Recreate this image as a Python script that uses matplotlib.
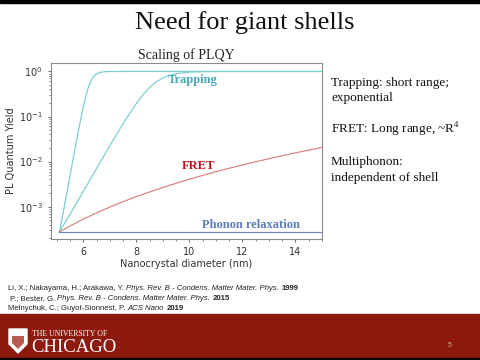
import matplotlib
matplotlib.use('Agg')
import matplotlib.pyplot as plt
from matplotlib.patches import Rectangle, Polygon

plt.rcParams['mathtext.fontset'] = 'stix'

# ---- data ----
diam_fast = [5.1, 5.3, 5.5, 5.7, 5.8, 5.9, 6.0, 6.1, 6.2, 6.3, 6.4, 6.5, 6.6, 6.7, 6.8, 7.0, 7.5, 15.0]
qy_fast = [2.75e-4, 1.15e-3, 5.0e-3, 0.0214, 0.0437, 0.087, 0.166, 0.294, 0.463, 0.643,
           0.790, 0.887, 0.943, 0.972, 0.986, 0.997, 1.0, 1.0]

diam_slow = [5.1, 5.5, 6.0, 6.5, 7.0, 7.5, 8.0, 8.25, 8.5, 8.75, 9.0, 9.25, 9.5, 10.0, 10.5, 11.0, 11.5, 12.0, 15.0]
qy_slow = [2.75e-4, 6.74e-4, 2.19e-3, 7.06e-3, 0.02255, 0.0698, 0.1956, 0.3048, 0.4414, 0.587,
           0.7195, 0.822, 0.893, 0.9643, 0.9889, 0.9965, 0.9989, 0.9997, 1.0]

diam_fret = [5.1, 5.5, 6.0, 6.5, 7.0, 7.5, 8.0, 9.0, 10.0, 11.0, 12.0, 13.0, 14.0, 15.0]
qy_fret = [2.75e-4, 3.72e-4, 5.27e-4, 7.27e-4, 9.77e-4, 1.29e-3, 1.67e-3, 2.67e-3, 4.07e-3,
           5.96e-3, 8.43e-3, 1.16e-2, 1.56e-2, 2.06e-2]

diam_phonon = [5.1, 15.0]
qy_phonon = [2.75e-4, 2.75e-4]

x_ticks = [6, 8, 10, 12, 14]

slide_title = "Need for giant shells"
plot_title = "Scaling of PLQY"
side_notes = [("Trapping: short range;", 86), ("exponential", 101.5),
              ("FRET: Long range, ~R$^{4}$", 133.5),
              ("Multiphonon:", 165.5), ("independent of shell", 181)]
references = [
    [("Li, X.; Nakayama, H.; Arakawa, Y.", "normal", "normal"),
     ("Phys. Rev. B - Condens. Matter Mater. Phys.", "italic", "normal"),
     ("1999", "normal", "bold")],
    [("P.; Bester, G.", "normal", "normal"),
     ("Phys. Rev. B - Condens. Matter Mater. Phys.", "italic", "normal"),
     ("2015", "normal", "bold")],
    [("Melnychuk, C.; Guyot-Sionnest, P.", "normal", "normal"),
     ("ACS Nano", "italic", "normal"),
     ("2019", "normal", "bold")],
]

W, H = 480, 360
fig = plt.figure(figsize=(4.8, 3.6), dpi=100)
fig.patch.set_facecolor('white')

def px(x, y):
    return x / W, 1 - y / H

# top thin black bar
fig.add_artist(Rectangle((0, 1 - 3 / H), 1, 3 / H, transform=fig.transFigure, color='black', zorder=0))

# slide title
fig.text(*px(245, 23), slide_title, ha='center', va='center', fontsize=19,
         family='Liberation Serif', color='#111111')

# ---- plot ----
ax = fig.add_axes([51 / W, 1 - 239 / H, 271 / W, 176 / H])
trap_line = '#7dd0d0'
ax.plot(diam_fast, qy_fast, color=trap_line, lw=0.9)
ax.plot(diam_slow, qy_slow, color=trap_line, lw=0.9)
ax.plot(diam_fret, qy_fret, color='#d98585', lw=0.9)
ax.plot(diam_phonon, qy_phonon, color='#7088b8', lw=0.9)
ax.set_yscale('log')
ax.set_xlim(4.78, 15.0)
ax.set_ylim(1.91e-4, 1.54)
ax.set_xticks(x_ticks)
ax.xaxis.set_minor_locator(matplotlib.ticker.AutoMinorLocator(4))
ax.yaxis.set_major_formatter(matplotlib.ticker.LogFormatterMathtext())
for s in ax.spines.values():
    s.set_color('#8a8a8a')
ax.tick_params(labelsize=7, colors='#555555', labelcolor='#333333', length=2.5, width=0.6)
ax.tick_params(which='minor', length=1.5, width=0.5, colors='#555555')
ax.set_xlabel("Nanocrystal diameter (nm)", fontsize=7, color='#333333', labelpad=1)
ax.set_ylabel("PL Quantum Yield", fontsize=7, color='#333333', labelpad=2)
ax.set_title(plot_title, fontsize=10, family='Liberation Serif', color='#222222', pad=3)

ax.text(9.2, 0.65, "Trapping", fontsize=9, fontweight='bold', family='Liberation Serif',
        color='#45a8b8', va='center')
ax.text(9.72, 7.8e-3, "FRET", fontsize=9, fontweight='bold', family='Liberation Serif',
        color='#c0141a', va='center')
ax.text(10.48, 3.9e-4, "Phonon relaxation", fontsize=9, fontweight='bold', family='Liberation Serif',
        color='#5b7db8', va='center')

# side notes
for txt, yb in side_notes:
    fig.text(*px(331, yb), txt, fontsize=9.5, family='Liberation Serif', color='#111111',
             va='baseline', ha='left')

# references
renderer = fig.canvas.get_renderer()
ref_y = [289.5, 300, 310.5]
ref_x = [8, 10, 8]
for pieces, yb, x0 in zip(references, ref_y, ref_x):
    cur = x0
    for txt, style, weight in pieces:
        t = fig.text(*px(cur, yb), txt, fontsize=5.6, family=['Liberation Sans', 'DejaVu Sans'],
                     fontstyle=style, fontweight=weight, color='#222222', va='baseline', ha='left')
        bb = t.get_window_extent(renderer)
        cur = bb.x1 + 2.3

# bottom banner
fig.add_artist(Rectangle((0, 2 / H), 1, 44 / H, transform=fig.transFigure, color='#8e1a0e', zorder=0))
fig.add_artist(Rectangle((0, 0), 1, 2 / H, transform=fig.transFigure, color='black', zorder=0))
shield = [px(9, 329), px(27, 329), px(27, 344), px(18, 353), px(9, 344)]
fig.add_artist(Polygon(shield, closed=True, transform=fig.transFigure, facecolor='white',
                       edgecolor='white', zorder=1))
fig.add_artist(Polygon([px(12, 336), px(24, 336), px(24, 343), px(18, 349), px(12, 343)], closed=True,
                       transform=fig.transFigure, facecolor='#b85a50', edgecolor='none', zorder=2))
fig.text(*px(32, 336.5), "THE UNIVERSITY OF", fontsize=5.6, family='Liberation Serif',
         color='white', va='baseline', ha='left')
fig.text(*px(31, 352), "CHICAGO", fontsize=13.5, family='Liberation Serif',
         color='white', va='baseline', ha='left')
fig.text(*px(450, 345.5), "5", fontsize=5, family='Liberation Sans', color='#d9a9a0', va='center', ha='center')

fig.savefig('out.png', dpi=100)
